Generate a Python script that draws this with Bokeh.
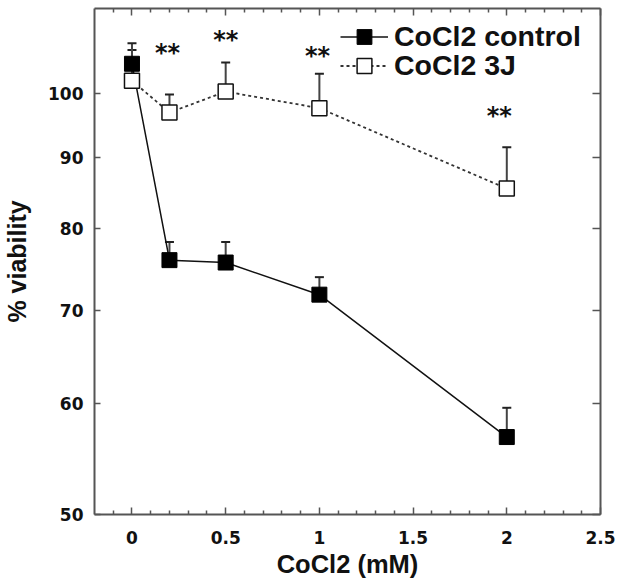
import numpy as np
from bokeh.plotting import figure
from bokeh.models import (Range1d, FixedTicker, LinearAxis, LogAxis, Whisker, TeeHead,
                          ColumnDataSource, Legend, LegendItem, PrintfTickFormatter)
from bokeh.core.properties import value
from bokeh.embed import file_html
from bokeh.resources import INLINE

# ---- data ----
conc = [0, 0.2, 0.5, 1, 2]
control = [105.0, 76.0, 75.7, 71.8, 56.8]
control_err = [3.6, 2.3, 2.6, 2.1, 2.8]
j3 = [102.1, 96.9, 100.3, 97.6, 85.5]
j3_err = [5.3, 2.9, 4.9, 5.7, 6.0]
star_x = [0.19, 0.5, 0.99, 1.96]
star_y = [107.6, 110.0, 107.1, 97.0]
star_text = ["**", "**", "**", "**"]
x_ticks = [0, 0.5, 1, 1.5, 2, 2.5]
x_tick_labels = ["0", "0.5", "1", "1.5", "2", "2.5"]
y_ticks = [50, 60, 70, 80, 90, 100]
series_names = ["CoCl2 control", "CoCl2 3J"]

AX = "#555555"
TICK_FONT = "DejaVu Sans"
LBL_FONT = "Liberation Sans"

p = figure(width=624, height=580, y_axis_type="log",
           x_range=Range1d(-0.2, 2.5), y_range=Range1d(50, 115),
           output_backend="svg", toolbar_location=None,
           min_border_left=94, min_border_right=24, min_border_top=8, min_border_bottom=66)
p.xgrid.visible = False
p.ygrid.visible = False
p.outline_line_color = None
p.background_fill_color = "white"

minor_x = [round(v, 2) for v in np.arange(-0.1, 2.5, 0.1) if abs(round(v * 2) - v * 2) > 1e-6]
xticker = FixedTicker(ticks=x_ticks, minor_ticks=minor_x)
yticker = FixedTicker(ticks=y_ticks, minor_ticks=[])

def style_axis(ax, show_labels):
    ax.axis_line_color = AX
    ax.axis_line_width = 2
    ax.major_tick_line_color = AX
    ax.major_tick_line_width = 1.5
    ax.minor_tick_line_color = AX
    ax.minor_tick_line_width = 1.5
    ax.major_tick_in = 7
    ax.major_tick_out = 0
    ax.minor_tick_in = 4
    ax.minor_tick_out = 0
    if show_labels:
        ax.major_label_text_font = TICK_FONT
        ax.major_label_text_font_style = "bold"
        ax.major_label_text_font_size = "17px"
        ax.major_label_text_color = "#111111"
        ax.axis_label_text_font = LBL_FONT
        ax.axis_label_text_font_style = "bold"
        ax.axis_label_text_color = "#111111"
    else:
        ax.major_label_text_font_size = "0px"
        ax.major_label_text_color = None

xa = p.xaxis[0]
xa.ticker = xticker
xa.major_label_overrides = {t: l for t, l in zip(x_ticks, x_tick_labels)}
xa.axis_label = "CoCl2 (mM)"
style_axis(xa, True)
xa.axis_label_text_font_size = "25.5px"
xa.major_label_standoff = 16
xa.axis_label_standoff = 3

ya = p.yaxis[0]
ya.ticker = yticker
ya.formatter = PrintfTickFormatter(format="%d")
ya.axis_label = "% viability"
style_axis(ya, True)
ya.axis_label_text_font_size = "25px"
ya.major_label_standoff = 11
ya.axis_label_standoff = 14
ya.major_tick_in = 6

top = LinearAxis(ticker=xticker)
style_axis(top, False)
p.add_layout(top, "above")
right = LogAxis(ticker=yticker)
style_axis(right, False)
right.major_tick_in = 8
p.add_layout(right, "right")

# ---- error bars (upper only) ----
src_c = ColumnDataSource(dict(x=conc, y=control, up=[a + b for a, b in zip(control, control_err)]))
src_j = ColumnDataSource(dict(x=conc, y=j3, up=[a + b for a, b in zip(j3, j3_err)]))
for src in (src_j, src_c):
    w = Whisker(source=src, base="x", lower="y", upper="up", dimension="height",
                line_color="#444444", line_width=2, level="underlay",
                lower_head=None,
                upper_head=TeeHead(size=9, line_color="#222222", line_width=2))
    p.add_layout(w)

# ---- series ----
l_c = p.line("x", "y", source=src_c, line_color="#111111", line_width=1.5)
l_j = p.line("x", "y", source=src_j, line_color="#333333", line_width=1.8, line_dash="3 3")
s_j = p.scatter("x", "y", source=src_j, marker="square", size=15,
                fill_color="white", line_color="#111111", line_width=1.5)
s_c = p.scatter("x", "y", source=src_c, marker="square", size=15,
                fill_color="black", line_color="black", line_width=1)

p.text(x=star_x, y=star_y, text=star_text, text_font=value(TICK_FONT),
       text_font_style="bold", text_font_size="24px", text_color="#111111",
       text_align="center", text_baseline="middle", y_offset=4)

def make_legend(label, rends, loc):
    return Legend(items=[LegendItem(label=label, renderers=rends)],
                  location=loc, padding=0, margin=0, spacing=0,
                  glyph_width=48, glyph_height=37, label_height=37, label_standoff=6,
                  label_text_font=LBL_FONT, label_text_font_style="bold",
                  label_text_font_size="28.5px", label_text_color="#111111",
                  border_line_color=None, background_fill_alpha=0)

p.add_layout(make_legend(series_names[0], [l_c, s_c], (246, 459)))
p.add_layout(make_legend(series_names[1], [l_j, s_j], (246, 430)))

open("out.html", "w").write(file_html(p, INLINE))
